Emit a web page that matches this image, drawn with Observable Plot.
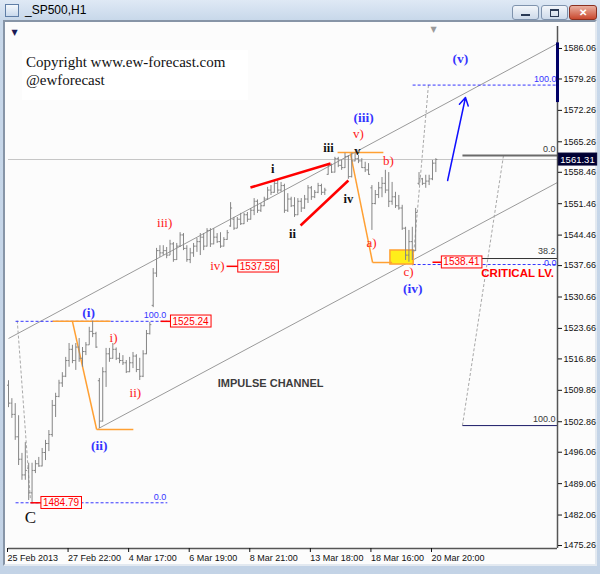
<!DOCTYPE html>
<html><head><meta charset="utf-8">
<script src="https://cdn.jsdelivr.net/npm/d3@7"></script>
<script src="https://cdn.jsdelivr.net/npm/@observablehq/plot@0.6"></script>
<style>
body{margin:0;background:#fff;}
#win{position:relative;width:600px;height:574px;overflow:hidden;background:linear-gradient(180deg,#dfe9f5 0,#c8d8ea 20px,#c3d3e6 100%);font-family:"Liberation Sans",sans-serif;}
#icon{position:absolute;left:5px;top:4px;width:12px;height:11px;border:1px solid #5f7ea6;background:linear-gradient(#f4f8fc,#c9d9ec);}
#title{position:absolute;left:25px;top:3px;font-size:12px;color:#000;}
.btn{position:absolute;top:5px;height:13px;border:1px solid #7f93ad;border-radius:3px;background:linear-gradient(#f3f6fa,#cddaea);}
#bmin{left:512px;width:25px;}
#bmax{left:541px;width:25px;}
#bclose{left:569px;width:26px;background:linear-gradient(#eab0a0,#c9482e);border-color:#8a3020;color:#fff;font-size:10px;font-weight:bold;text-align:center;line-height:13px;}
#bmin:after{content:"";position:absolute;left:8px;top:8px;width:9px;height:2px;background:#2a3a55;}
#bmax:after{content:"";position:absolute;left:8px;top:3px;width:7px;height:5px;border:1px solid #2a3a55;border-top-width:2px;}
#inner{position:absolute;left:3px;top:20px;width:590px;height:542px;background:#fcfcfc;border:2px solid;border-color:#8795a7 #e3e9f0 #e3e9f0 #8795a7;}
#copy{position:absolute;left:22px;top:50px;width:222px;height:46px;background:#ffffff;font-family:"Liberation Serif",serif;font-size:15px;line-height:18px;color:#111;padding:3px 0 1px 4px;}
#chart{position:absolute;left:0;top:0;}
</style></head>
<body>
<div id="win">
  <div id="icon"></div>
  <div id="title">_SP500,H1</div>
  <div class="btn" id="bmin"></div><div class="btn" id="bmax"></div><div class="btn" id="bclose">✕</div>
  <div id="inner"></div>
  <div id="copy">Copyright www.ew-forecast.com<br>@ewforecast</div>
  <div id="chart"></div>
</div>
<script>
// ---- OHLC bars (H1), index = bar number ----
const open = [1511,1507,1504.5,1499.5,1494.5,1491,1492.5,1487,1492,1493.5,
1493,1496,1498,1500,1506.5,1508.5,1511.5,1513,1516.5,1519,
1516.5,1519.5,1517,1518.5,1520,1523,1522.5,1512,1503,1514,
1518,1517,1519,1517,1516.5,1516,1514,1516,1517.5,1514.5,
1513,1518,1522.5,1528.8,1536,1541,1540.5,1541,1540,1542.5,
1539,1542,1544.5,1541.5,1539,1540.5,1542,1543,1544,1542,
1545.5,1542.5,1544,1543,1542,1543.5,1546.5,1548,1546,1548,
1547,1549,1548,1550,1552,1550,1551,1552.5,1554.5,1554,
1556,1554.5,1555.5,1550,1552.5,1551,1549,1552,1550.5,1552.5,
1555,1553,1554,1555.5,1554,1558,1560,1558.5,1561.5,1560,
1559.5,1562,1557.5,1561,1561.5,1561,1559.5,1559,1555,1551.5,
1553.5,1555,1556,1554.5,1552,1553,1551,1550.5,1546,1540,
1543,1541,1556,1557,1556,1556.5,1557,1560.5];
const high = [1512,1508,1506.9,1504.2,1495.8,1498.2,1493.6,1493.6,1494.2,1494.9,
1496.9,1498.7,1500.9,1507.6,1509.2,1512.1,1513.8,1517.2,1520.3,1519.9,
1520.3,1521.4,1519.4,1520.5,1523.9,1525.24,1522.8,1512.5,1514.9,1519.2,
1519.2,1520.3,1519.3,1518.1,1517.6,1516.5,1517.2,1518.3,1517.8,1517,
1518.7,1523.2,1525,1537,1541.5,1542.1,1542.1,1541.7,1543.3,1542.8,
1542.6,1545,1544.8,1542.1,1541.5,1542.6,1543.7,1544.8,1544.8,1545.9,
1545.9,1545.9,1544.8,1545,1543.9,1545.5,1551.7,1548.4,1548.4,1549.3,
1549.3,1549.5,1550.4,1552.6,1552.3,1551.5,1552.9,1555.1,1555.5,1556.6,
1556.6,1556.2,1555.8,1553.7,1552.9,1552.8,1552.6,1552.6,1553.3,1555.5,
1555.3,1554.4,1556,1555.8,1554.9,1560.4,1560.3,1561.8,1561.8,1561.1,
1562.7,1562.2,1562.7,1562.9,1562.2,1561.5,1560.7,1560.4,1555.5,1554.4,
1556.2,1557.3,1558.9,1558.4,1556.2,1554,1553.3,1551.1,1546.2,1545.5,
1546.2,1550.4,1558.4,1557.1,1557.8,1557.8,1561.1,1561.5];
const low = [1506,1503.6,1498.7,1493.1,1489.8,1489.8,1485.3,1484.79,1491.3,1492.7,
1492.8,1494.2,1496.2,1499.4,1503.8,1508.2,1510.5,1512.7,1515,1515.8,
1514.3,1516.1,1515,1517.6,1519.9,1521.6,1519.2,1501.35,1502.8,1510.5,
1516.1,1516.8,1516.5,1515.8,1515.4,1513.6,1513.8,1514.7,1513.8,1512.05,
1512.7,1517.8,1522.2,1528.3,1535,1539.5,1539.9,1539.2,1539.9,1538.4,
1538.8,1541.7,1541,1538.4,1538.1,1539.5,1540.6,1539.9,1541,1541.8,
1541.7,1542.3,1542.6,1541.5,1541.8,1543.3,1546.2,1545.5,1545.9,1546.6,
1546.8,1547.3,1547.8,1548.8,1549.3,1549.5,1550.8,1552.2,1553.3,1553.8,
1553.7,1554,1549.3,1549.5,1550.6,1548.4,1548.8,1549.5,1550.2,1551.5,
1552.2,1552.6,1553.7,1553.3,1553.3,1557.8,1558.2,1558.3,1559.5,1558.9,
1559.3,1556.9,1557.2,1560.8,1560.4,1559.3,1558.4,1557.8,1545.5,1551.2,
1552.6,1552.8,1553.7,1550.6,1551.1,1550.4,1550,1545.5,1538.8,1538.41,
1538.8,1540.8,1555.5,1555.5,1554.9,1555.5,1556.6,1558.4];
const close = [1507,1504.5,1499.5,1494.5,1491,1492,1487,1492,1493.5,1493,
1496,1498,1500,1506.5,1508.5,1511.5,1513,1516.5,1519,1516.5,
1519.5,1517,1518.5,1520,1523,1522.5,1519.5,1503,1514,1518,
1517,1519,1517,1516.5,1516,1514,1516,1517.5,1514.5,1513,
1518,1522.5,1524.5,1536,1541,1540.5,1541,1540,1542.5,1539,
1542,1544.5,1541.5,1539,1540.5,1542,1543,1544,1542,1545.5,
1542.5,1544,1543,1542,1543.5,1545,1550.5,1546,1548,1547,
1549,1548,1550,1552,1550,1551,1552.5,1554.5,1554,1556,
1554.5,1555.5,1550,1552.5,1551,1549,1552,1550.5,1552.5,1555,
1553,1554,1555.5,1554,1554.5,1560,1558.5,1561.5,1560,1559.5,
1562,1557.5,1561,1561.5,1561,1559.5,1559,1558,1551.5,1553.5,
1555,1556,1554.5,1552,1553,1551,1550.5,1546,1540,1543,
1541,1549.5,1557,1556,1556.5,1557,1560.5,1561.31];

// ---- axes ----
const yTicks = [1586.06,1579.26,1572.26,1565.26,1558.46,1551.46,1544.46,1537.66,1530.66,1523.66,1516.86,1509.86,1502.86,1496.06,1489.06,1482.06,1475.26];
const xTickIdx = [0,18,36,54,72,90,108,126];
const xTickLabels = ["25 Feb 2013","27 Feb 22:00","4 Mar 17:00","6 Mar 19:00","8 Mar 21:00","13 Mar 18:00","18 Mar 16:00","20 Mar 20:00"];
const lastPrice = 1561.31;
const xDomain = [0, 163.15];
const yDomain = [1474.6, 1590.96];

// ---- annotations (bar index, price) ----
const channelLines = [
  {x1:0, y1:1521.41, x2:163.15, y2:1587.17},
  {x1:26.75, y1:1501.35, x2:163.15, y2:1556.19}
];
const redLines = [
  {x1:71.9, y1:1555.07, x2:95.7, y2:1560.42},
  {x1:86.8, y1:1546.6, x2:101.0, y2:1556.63}
];
const orangeSegs = [
  {x1:13.1, y1:1525.24, x2:30.3, y2:1525.24},
  {x1:19.0, y1:1525.24, x2:26.2, y2:1501.13},
  {x1:26.2, y1:1501.13, x2:37.1, y2:1501.13},
  {x1:97.8, y1:1562.88, x2:111.4, y2:1562.88},
  {x1:101.6, y1:1562.66, x2:108.2, y2:1538.35},
  {x1:108.2, y1:1538.35, x2:114.0, y2:1538.35}
];
const yellowBox = [{x1:113.5, x2:120.4, y1:1537.9, y2:1541.03}];
const blueLevels = [
  {x1:2.1, x2:47.2, y:1525.24, label:"100.0", dy:-6},
  {x1:2.1, x2:47.2, y:1484.79, label:"0.0", dy:-6},
  {x1:120.1, x2:163.15, y:1577.9, label:"100.0", dy:-6},
  {x1:120.1, x2:163.15, y:1537.9, label:"0.0", dy:-1}
];
const darkLevels = [
  {x1:134.9, x2:163.15, y:1562.2, label:"0.0", w:2, c:"#6a6a6a", dy:-6},
  {x1:140.3, x2:163.15, y:1539.24, label:"38.2", w:1, c:"#333333", dy:-7},
  {x1:134.9, x2:163.15, y:1502.0, label:"100.0", w:1, c:"#1a1a66", dy:-6}
];
const fibConnectors = [
  {x1:2.6, y1:1525.4, x2:6.5, y2:1485.7},
  {x1:124.8, y1:1577.9, x2:120.1, y2:1537.7},
  {x1:147.1, y1:1562.2, x2:134.9, y2:1502.0}
];
const priceBoxes = [
  {text:"1525.24", x:54.1, y:1525.24, lx1:45.2, lx2:48.1},
  {text:"1484.79", x:15.6, y:1484.79, lx1:6.5, lx2:9.6},
  {text:"1537.56", x:74.1, y:1537.5, lx1:64.8, lx2:68.3},
  {text:"1538.41", x:134.6, y:1538.41, lx1:126.0, lx2:129.0}
];
const arrowV = [{x1:130.5, y1:1556.63, x2:135.8, y2:1575.14}];
const redLabels = [
  {t:"i)", x:31.2, y:1521.6}, {t:"ii)", x:37.7, y:1509.4}, {t:"iii)", x:46.4, y:1547.3},
  {t:"iv)", x:62.1, y:1537.5}, {t:"v)", x:104.0, y:1567.0}, {t:"b)", x:112.9, y:1561.1},
  {t:"a)", x:107.9, y:1542.8}, {t:"c)", x:118.9, y:1536.2}
];
const blueLabels = [
  {t:"(i)", x:23.8, y:1527.2}, {t:"(ii)", x:27.0, y:1497.5}, {t:"(iii)", x:105.5, y:1570.7},
  {t:"(iv)", x:120.1, y:1532.6}, {t:"(v)", x:134.3, y:1583.8}
];
const blackLabels = [
  {t:"i", x:78.5, y:1559.3}, {t:"ii", x:84.4, y:1544.8}, {t:"iii", x:95.1, y:1563.9},
  {t:"iv", x:101.0, y:1552.4}, {t:"v", x:103.7, y:1563.1}
];
const waveC = [{t:"C", x:6.5, y:1481.5}];
const channelTitle = [{t:"IMPULSE CHANNEL", x:77.9, y:1511.4}];
const criticalLabel = [{t:"CRITICAL LV.", x:151.3, y:1535.9}];

const bars = open.map((o,i)=>({i, o, h:high[i], l:low[i], c:close[i]}));
const RED = "#ff1a1a", BLUE = "#3535ff", BAR = "#858585", ORANGE = "#ffa033";
const serif = "Liberation Serif, serif";

const chart = Plot.plot({
  width:600, height:574,
  marginLeft:8, marginRight:43, marginTop:26, marginBottom:26,
  style:{background:"transparent", fontFamily:"Liberation Sans, sans-serif", fontSize:"9px", color:"#111", overflow:"visible"},
  x:{domain:xDomain, axis:null},
  y:{domain:yDomain, axis:null},
  marks:[
    Plot.ruleY([lastPrice], {stroke:"#c6c6c6"}),
    Plot.link(channelLines, {x1:"x1", y1:"y1", x2:"x2", y2:"y2", stroke:"#9a9a9a", strokeWidth:1}),
    Plot.link(fibConnectors, {x1:"x1", y1:"y1", x2:"x2", y2:"y2", stroke:"#a8a8a8", strokeDasharray:"3,2"}),
    Plot.link(blueLevels, {x1:"x1", x2:"x2", y1:"y", y2:"y", stroke:BLUE, strokeDasharray:"3,2"}),
    Plot.link(darkLevels, {x1:"x1", x2:"x2", y1:"y", y2:"y", stroke:d=>d.c, strokeWidth:d=>d.w}),
    Plot.rect(yellowBox, {x1:"x1", x2:"x2", y1:"y1", y2:"y2", fill:"#ffee1a", stroke:ORANGE, strokeWidth:1.5}),
    Plot.link(orangeSegs, {x1:"x1", y1:"y1", x2:"x2", y2:"y2", stroke:ORANGE, strokeWidth:1.5}),
    Plot.ruleX(bars, {x:"i", y1:"l", y2:"h", stroke:BAR}),
    Plot.link(bars, {x1:d=>d.i-0.45, x2:"i", y1:"o", y2:"o", stroke:BAR}),
    Plot.link(bars, {x1:"i", x2:d=>d.i+0.45, y1:"c", y2:"c", stroke:BAR}),
    Plot.link(redLines, {x1:"x1", y1:"y1", x2:"x2", y2:"y2", stroke:"#ff0000", strokeWidth:2.5}),
    Plot.arrow(arrowV, {x1:"x1", y1:"y1", x2:"x2", y2:"y2", stroke:"#1010ff", strokeWidth:1.5, headLength:9}),
    Plot.link(priceBoxes, {x1:"lx1", x2:"lx2", y1:"y", y2:"y", stroke:"#ff0000", strokeWidth:1.5}),
    Plot.text(priceBoxes, {x:"x", y:"y", text:"text", fill:"#ff0000", fontSize:10, className:"pbox"}),
    // fib labels
    ...blueLevels.map(d => Plot.text([d], {x:"x2", y:"y", text:"label", fill:BLUE, textAnchor:"end", dy:d.dy, dx:-1, fontSize:9})),
    ...darkLevels.map(d => Plot.text([d], {x:"x2", y:"y", text:"label", fill:"#3a3a3a", textAnchor:"end", dy:d.dy, dx:-2, fontSize:9})),
    // wave labels
    Plot.text(redLabels, {x:"x", y:"y", text:"t", fill:RED, fontSize:13, fontFamily:serif}),
    Plot.text(blueLabels, {x:"x", y:"y", text:"t", fill:BLUE, fontSize:13.5, fontFamily:serif, fontWeight:"bold"}),
    Plot.text(blackLabels, {x:"x", y:"y", text:"t", fill:"#111", fontSize:12.5, fontFamily:serif, fontWeight:"bold"}),
    Plot.text(waveC, {x:"x", y:"y", text:"t", fill:"#111", fontSize:17, fontFamily:serif}),
    Plot.text(channelTitle, {x:"x", y:"y", text:"t", fill:"#3c3c3c", fontSize:11, fontWeight:"bold"}),
    Plot.text(criticalLabel, {x:"x", y:"y", text:"t", fill:"#ff0000", fontSize:11.5, fontWeight:"bold"}),
    // frame / axes
    Plot.ruleX([xDomain[1]], {stroke:"#555", strokeWidth:1.5}),
    Plot.ruleY([yDomain[0]], {stroke:"#555", strokeWidth:1.5}),
    Plot.ruleX([xDomain[1]], {y1:1574.0, y2:1587.3, stroke:"#000066", strokeWidth:3}),
    Plot.axisY({ticks:yTicks, anchor:"right", tickFormat:d=>d.toFixed(2), tickSize:4, tickPadding:2, label:null, fill:"#111"}),
    Plot.axisX({ticks:xTickIdx, anchor:"bottom", tickFormat:d=>xTickLabels[xTickIdx.indexOf(d)], tickSize:4, tickPadding:2, textAnchor:"start", dx:-1, label:null, fill:"#111"}),
    Plot.text([lastPrice], {x:()=>xDomain[1], y:d=>d, text:d=>d.toFixed(2), dx:20, fill:"#ffffff", fontSize:9.5, className:"cbox"}),
    Plot.text(["▼"], {x:()=>1.8, y:()=>1589.6, text:d=>d, fill:"#1a1a55", fontSize:8, fontFamily:"DejaVu Sans"}),
    Plot.text(["▼"], {x:()=>126.3, y:()=>1590.4, text:d=>d, fill:"#9a9a9a", fontSize:8, fontFamily:"DejaVu Sans"})
  ]
});
document.getElementById("chart").append(chart);

// boxes behind the price tag texts
const NS = "http://www.w3.org/2000/svg";
for (const [cls, fill, stroke] of [["pbox","#fff8f8","#ff0000"],["cbox","#000033","#000033"]]) {
  for (const g of chart.querySelectorAll("g." + cls)) {
    for (const t of g.querySelectorAll("text")) {
      const b = t.getBBox();
      const r = document.createElementNS(NS, "rect");
      r.setAttribute("x", b.x - 2);
      r.setAttribute("y", b.y - 0.5);
      r.setAttribute("width", b.width + 4);
      r.setAttribute("height", b.height + 1);
      r.setAttribute("fill", fill);
      r.setAttribute("stroke", stroke);
      if (t.getAttribute("transform")) r.setAttribute("transform", t.getAttribute("transform"));
      t.parentNode.insertBefore(r, t);
    }
  }
}
</script>
</body></html>
